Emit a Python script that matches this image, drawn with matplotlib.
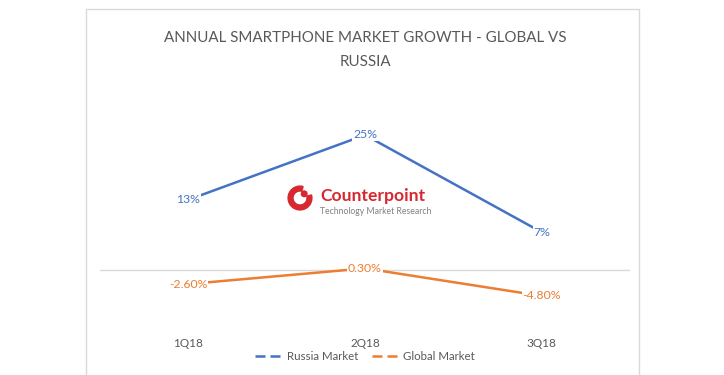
import matplotlib
matplotlib.use("Agg")
import matplotlib.pyplot as plt
from matplotlib.patches import Rectangle, Wedge, Circle

quarters = ["1Q18", "2Q18", "3Q18"]
russia = [13, 25, 7]
global_mkt = [-2.6, 0.3, -4.8]
russia_labels = ["13%", "25%", "7%"]
global_labels = ["-2.60%", "0.30%", "-4.80%"]

blue = "#4472C4"
orange = "#ED7D31"
grey_txt = "#595959"

plt.rcParams['font.family'] = ['Lato', 'DejaVu Sans']

W, H = 724, 375
fig = plt.figure(figsize=(W / 100, H / 100), dpi=100)

# chart frame (bottom edge runs off the picture)
fig.patches.append(Rectangle((86 / W, -0.1), (639 - 86) / W, 1.1 - 9 / H,
                             transform=fig.transFigure, fill=False,
                             ec="#D9D9D9", lw=1))

ax = fig.add_axes([100 / W, 1 - 324 / H, 530 / W, (324 - 108) / H])
x = range(len(quarters))
ax.plot(x, russia, color=blue, lw=1.8, label="Russia Market")
ax.plot(x, global_mkt, color=orange, lw=1.8, label="Global Market")
ax.axhline(0, color="#D9D9D9", lw=1, zorder=0)

for i, t in enumerate(russia_labels):
    ax.text(i, russia[i], t, color=blue, fontsize=8.8, ha="center", va="center",
            bbox=dict(fc="white", ec="none", pad=0.4))
for i, t in enumerate(global_labels):
    ax.text(i, global_mkt[i], t, color=orange, fontsize=8.8, ha="center", va="center",
            bbox=dict(fc="white", ec="none", pad=0.4))

ax.set_xlim(-0.5, 2.5)
ax.set_ylim(-10, 30)
ax.set_xticks(list(x))
ax.set_xticklabels(quarters, color=grey_txt, fontsize=8.5)
ax.tick_params(length=0, pad=10)
ax.set_yticks([])
for s in ax.spines.values():
    s.set_visible(False)

fig.text(365 / W, 1 - 38 / H, "ANNUAL SMARTPHONE MARKET GROWTH - GLOBAL VS",
         ha="center", va="center", fontsize=10.9, color=grey_txt)
fig.text(365 / W, 1 - 62 / H, "RUSSIA", ha="center", va="center",
         fontsize=10.9, color=grey_txt)

leg = fig.legend(loc="center", bbox_to_anchor=(365 / W, 1 - 357 / H), ncol=2,
                 frameon=False, fontsize=8.3, handlelength=2.4, columnspacing=1.2,
                 handletextpad=0.3)
for h in leg.get_lines():
    h.set_linestyle((0, (4, 2)))
for t in leg.get_texts():
    t.set_color(grey_txt)

# Counterpoint logo
lax = fig.add_axes([286 / W, 1 - 212 / H, 28 / W, 28 / H])
lax.set_xlim(-1, 1)
lax.set_ylim(-1, 1)
lax.set_aspect("equal")
lax.axis("off")
lax.add_patch(Wedge((0, 0), 0.85, 75, 15, width=0.35, color="#D7282F"))
lax.add_patch(Circle((0.3, 0.3), 0.2, color="#D7282F"))
fig.text(320 / W, 1 - 196 / H, "Counterpoint", ha="left", va="center",
         fontsize=12.6, fontweight="bold", color="#D7282F")
fig.text(320 / W, 1 - 211 / H, "Technology Market Research", ha="left", va="center",
         fontsize=6.2, color="#808080")

fig.savefig("out.png", dpi=100)
